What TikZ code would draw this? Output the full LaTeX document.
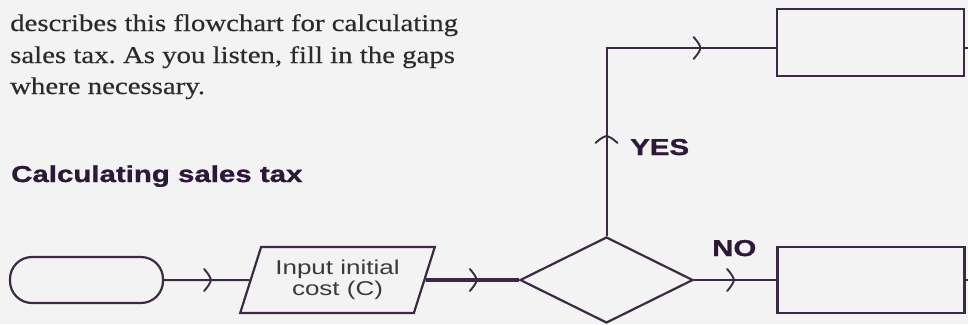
\documentclass[tikz,border=0pt]{standalone}
\usepackage{fontspec}
\usetikzlibrary{shapes.geometric,decorations.markings}
\newfontfamily\bodyfont[FakeStretch=1.2,FakeBold=0.4]{Liberation Serif}
\newfontfamily\headfont[FakeStretch=1.28,BoldFeatures={FakeBold=1.2}]{Liberation Sans}
\newfontfamily\boxfont[FakeStretch=1.3]{Liberation Sans}
\definecolor{ink}{HTML}{3C2A44}
\definecolor{headink}{HTML}{2E1838}
\definecolor{bodyink}{HTML}{2B2B2B}
\definecolor{boxink}{HTML}{3A3A3A}
\definecolor{bg}{HTML}{F4F3F4}
\frenchspacing
\begin{document}
\begin{tikzpicture}[x=1pt,y=-1pt,
  line/.style={draw=ink, line width=2pt},
  thickline/.style={draw=ink, line width=3.8pt},
  chev/.style={postaction={decorate,decoration={markings,
     mark=at position #1 with {\draw[ink,line width=1.9pt,line cap=round]
       (-7pt,-11pt) .. controls (-2pt,-5pt) .. (0pt,0pt) .. controls (-2pt,5pt) .. (-7pt,11pt);}}}},
  shapebox/.style={draw=ink, line width=2.2pt, inner sep=0pt},
  bodytext/.style={anchor=base west, inner sep=0pt, text=bodyink, font=\bodyfont\fontsize{24}{29}\selectfont},
  headtext/.style={anchor=base west, inner sep=0pt, text=headink, font=\headfont\bfseries\fontsize{23}{26}\selectfont},
  labeltext/.style={anchor=base west, inner sep=0pt, text=headink, font=\headfont\bfseries\fontsize{23}{26}\selectfont},
]
\fill[bg] (0,0) rectangle (968,324);
\useasboundingbox (0,0) rectangle (968,324);

% body text
\node[bodytext] (t1) at (10,31) {describes this flowchart for calculating};
\node[bodytext] (t2) at (10,63) {sales tax. As you listen, fill in the gaps};
\node[bodytext] (t3) at (10,94) {where necessary.};
\node[headtext] (head) at (11,182) {Calculating sales tax};

% shapes
\node[shapebox, rectangle, rounded corners=22pt, minimum width=153pt, minimum height=46pt] (term) at (86.5,280) {};
\node[shapebox, trapezium, trapezium left angle=67, trapezium right angle=113, trapezium stretches=true,
      minimum width=195pt, minimum height=66pt, align=center, text=boxink,
      font=\boxfont\fontsize{20}{21.5}\selectfont] (par) at (337.5,280) {Input initial\\cost (C)};
\node[shapebox, diamond, minimum width=173pt, minimum height=86pt] (dia) at (606.5,280) {};
\node[shapebox, rectangle, minimum width=187pt, minimum height=67pt] (tbox) at (870.5,42.5) {};
\node[shapebox, rectangle, minimum width=187pt, minimum height=66pt] (bbox) at (871,280) {};

\coordinate (tout) at (968,48);
\coordinate (bout) at (968,280);

% connectors
\draw[line, chev=0.55] (term) -- (par);
\draw[thickline, chev=0.55] (par) -- (dia);
\draw[line, chev=100pt, chev=282pt] (dia.north) |- ([yshift=-5.5pt]tbox.west);
\draw[line, chev=40pt] (dia.east) -- (bbox.west);
\draw[line] ([yshift=-5.5pt]tbox.east) -- (tout);
\draw[line] (bbox.east) -- (bout);

% labels
\node[labeltext] (yes) at (630,155) {YES};
\node[labeltext] (no) at (712,256) {NO};
\end{tikzpicture}
\end{document}
